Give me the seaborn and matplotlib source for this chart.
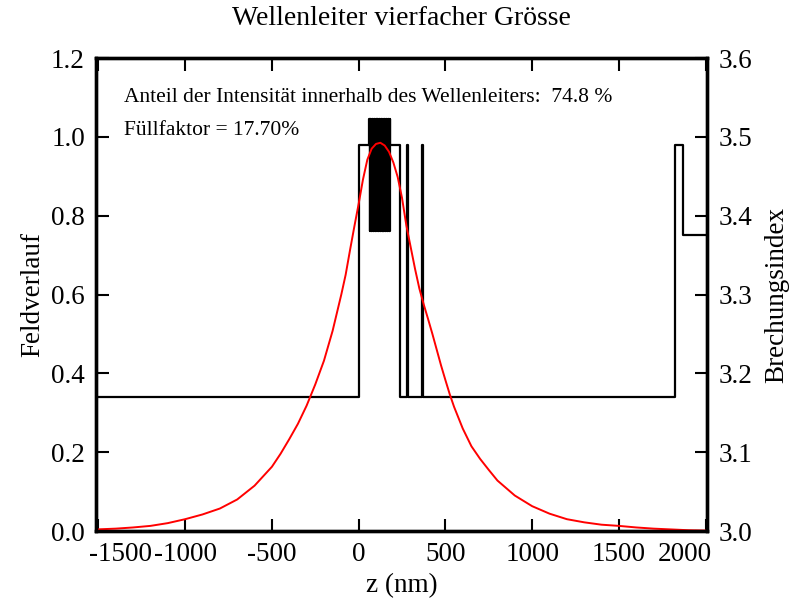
import numpy as np
import pandas as pd
import matplotlib
matplotlib.use("Agg")
import matplotlib.pyplot as plt
import matplotlib.transforms as mtransforms
import seaborn as sns

# field profile (red)
z_feld = [-1514, -1400, -1300, -1200, -1100, -1000, -900, -800, -700, -600, -500,
          -450, -400, -350, -300, -250, -200, -150, -100, -75, -50, -25, 0, 25, 50,
          75, 100, 125, 150, 175, 200, 225, 250, 275, 300, 325, 350, 375, 400, 425,
          450, 475, 500, 525, 550, 600, 650, 700, 750, 800, 900, 1000, 1100, 1200,
          1300, 1400, 1500, 1600, 1700, 1800, 1900, 2008]
feld = [0.004, 0.006, 0.009, 0.013, 0.020, 0.030, 0.042, 0.057, 0.080, 0.115, 0.163,
        0.196, 0.233, 0.272, 0.318, 0.372, 0.432, 0.508, 0.600, 0.650, 0.712, 0.772,
        0.830, 0.892, 0.942, 0.970, 0.982, 0.985, 0.978, 0.962, 0.935, 0.898, 0.845,
        0.775, 0.720, 0.665, 0.615, 0.575, 0.538, 0.500, 0.460, 0.420, 0.383, 0.347,
        0.315, 0.260, 0.215, 0.183, 0.155, 0.128, 0.090, 0.063, 0.044, 0.030, 0.022,
        0.016, 0.013, 0.009, 0.006, 0.004, 0.002, 0.001]

# refractive index profile (black), layer start positions and index values
z_index = [-1514, 0, 58, 63, 68, 73, 78, 83, 88, 93, 98, 103, 108, 113, 118, 123,
           128, 133, 138, 143, 148, 153, 158, 163, 168, 173, 178, 183, 236, 277, 283,
           363, 369, 1821, 1871, 2008]
n_index = [3.17, 3.49, 3.523, 3.38, 3.523, 3.38, 3.523, 3.38, 3.523, 3.38, 3.523,
           3.38, 3.523, 3.38, 3.523, 3.38, 3.523, 3.38, 3.523, 3.38, 3.523, 3.38,
           3.523, 3.38, 3.523, 3.38, 3.523, 3.49, 3.17, 3.49, 3.17, 3.49, 3.17,
           3.49, 3.375, 3.375]

x_ticks = [-1500, -1000, -500, 0, 500, 1000, 1500, 2000]
y_ticks = [0.0, 0.2, 0.4, 0.6, 0.8, 1.0, 1.2]
n_ticks = [3.0, 3.1, 3.2, 3.3, 3.4, 3.5, 3.6]

df_feld = pd.DataFrame({'z': z_feld, 'Feld': feld})
df_index = pd.DataFrame({'z': z_index, 'n': n_index})

sns.set_style("ticks")
plt.rcParams['font.family'] = ['Liberation Serif', 'DejaVu Serif']
plt.rcParams['text.color'] = 'black'
plt.rcParams['axes.labelcolor'] = 'black'
plt.rcParams['xtick.color'] = 'black'
plt.rcParams['ytick.color'] = 'black'

fig = plt.figure(figsize=(7.92, 6.03), dpi=100)
ax = fig.add_axes([0.1212, 0.1194, 0.7715, 0.7844])
ax2 = ax.twinx()

#index profile on the right axis
sns.lineplot(x='z', y='n', data=df_index, ax=ax2, color='black', linewidth=1.6,
             drawstyle='steps-post', sort=False, estimator=None)
#field on the left axis
sns.lineplot(x='z', y='Feld', data=df_feld, ax=ax, color='red', linewidth=1.4,
             sort=False, estimator=None)
ax.set_zorder(ax2.get_zorder() + 1)
ax.patch.set_visible(False)

ax.set_xlim(-1514, 2008)
ax.set_ylim(0, 1.2)
ax2.set_ylim(3.0, 3.6)

ax.set_xticks(x_ticks)
ax.set_xticklabels([str(t) for t in x_ticks])
ax.set_yticks(y_ticks)
ax.set_yticklabels(['%.1f' % t for t in y_ticks])
ax2.set_yticks(n_ticks)
ax2.set_yticklabels(['%.1f' % t for t in n_ticks])

ax.tick_params(axis='x', direction='in', top=True, length=9, width=1.5,
               labelsize=19.5, pad=8)
ax.tick_params(axis='y', direction='in', length=9, width=1.5, labelsize=19.5, pad=8)
ax2.tick_params(axis='y', direction='in', length=9, width=1.5, labelsize=19.5, pad=8)

# end labels pushed inwards like in the original
labs = ax.get_xticklabels()
labs[0].set_transform(labs[0].get_transform() +
                      mtransforms.ScaledTranslation(0.22, 0, fig.dpi_scale_trans))
labs[-1].set_horizontalalignment('right')
labs[-1].set_transform(labs[-1].get_transform() +
                       mtransforms.ScaledTranslation(0.06, 0, fig.dpi_scale_trans))

for a in (ax, ax2):
    for s in a.spines.values():
        s.set_linewidth(2.4)
        s.set_color('black')

ax.set_xlabel('z (nm)', fontsize=19.5, labelpad=4)
ax.set_ylabel('Feldverlauf', fontsize=19.5, labelpad=4)
ax2.set_ylabel('Brechungsindex', fontsize=19.5, labelpad=9)
ax.set_title('Wellenleiter vierfacher Grösse', fontsize=20, pad=24)

ax.text(0.046, 0.917, 'Anteil der Intensität innerhalb des Wellenleiters:  74.8 %',
        transform=ax.transAxes, fontsize=15.5, va='center', ha='left')
ax.text(0.046, 0.847, 'Füllfaktor = 17.70%',
        transform=ax.transAxes, fontsize=15.5, va='center', ha='left')

plt.savefig('out.png', dpi=100)
